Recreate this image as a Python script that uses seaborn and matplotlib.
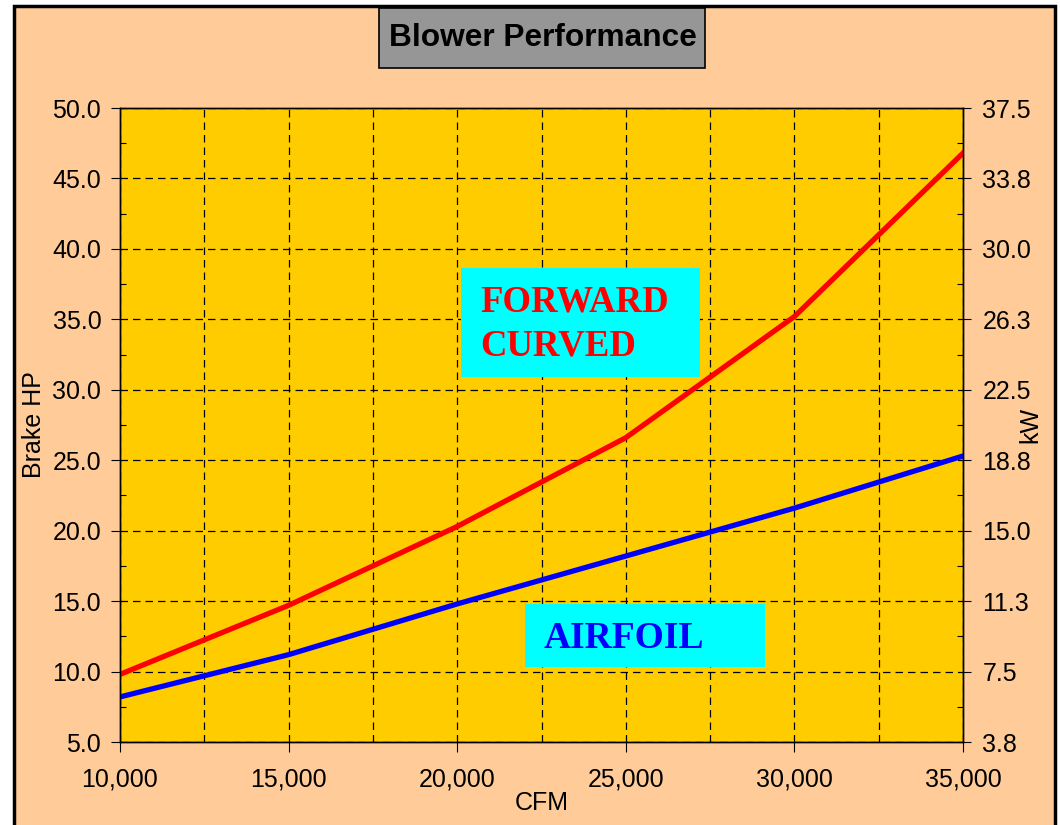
import matplotlib
matplotlib.use("Agg")
import matplotlib.pyplot as plt
from matplotlib.patches import Rectangle
from matplotlib.ticker import MultipleLocator, FuncFormatter
import seaborn as sns

# Data
cfm = [10000, 15000, 20000, 25000, 30000, 35000]
forward_curved_hp = [9.8, 14.7, 20.3, 26.6, 35.2, 46.8]
airfoil_hp = [8.2, 11.2, 14.8, 18.2, 21.6, 25.3]
hp_ticks = [5.0, 10.0, 15.0, 20.0, 25.0, 30.0, 35.0, 40.0, 45.0, 50.0]
kw_ticks = [3.75, 7.5, 11.25, 15.0, 18.75, 22.5, 26.25, 30.0, 33.75, 37.5]
kw_labels = ["3.8", "7.5", "11.3", "15.0", "18.8", "22.5", "26.3", "30.0", "33.8", "37.5"]
cfm_ticks = [10000, 15000, 20000, 25000, 30000, 35000]

plt.rcParams['font.family'] = ['Liberation Sans', 'DejaVu Sans']

W, H = 1060, 825


def fx(x):
    return x / W


def fy(y):
    return 1 - y / H


fig = plt.figure(figsize=(W / 100, H / 100), dpi=100)
fig.patch.set_facecolor('white')

# peach background with black frame (drawn below the axes)
fig.patches.append(Rectangle((fx(14), fy(900)), fx(1055) - fx(14), fy(6) - fy(900),
                             transform=fig.transFigure, facecolor='#FFCC99',
                             edgecolor='black', lw=2.5, zorder=-10))

ax = fig.add_axes([fx(120), fy(742), fx(963) - fx(120), fy(108) - fy(742)])
ax.set_facecolor('#FFCC00')
ax.set_axisbelow(True)

sns.lineplot(x=cfm, y=forward_curved_hp, color='#FF0000', lw=3.8, ax=ax, zorder=3)
sns.lineplot(x=cfm, y=airfoil_hp, color='#0000FF', lw=3.8, ax=ax, zorder=3)

ax.set_xlim(10000, 35000)
ax.set_ylim(5, 50)
ax.set_xticks(cfm_ticks)
ax.xaxis.set_minor_locator(MultipleLocator(2500))
ax.xaxis.set_major_formatter(FuncFormatter(lambda v, p: f"{int(v):,}"))
ax.set_yticks(hp_ticks)
ax.yaxis.set_minor_locator(MultipleLocator(2.5))
ax.yaxis.set_major_formatter(FuncFormatter(lambda v, p: f"{v:.1f}"))

ax.grid(True, which='major', axis='y', color='black', lw=0.9, ls=(0, (6, 4)))
ax.grid(True, which='both', axis='x', color='black', lw=0.9, ls=(0, (6, 4)))

ax.tick_params(axis='y', which='major', direction='out', length=6.5, width=0.8,
               labelsize=18, pad=7, colors='black')
ax.tick_params(axis='y', which='minor', direction='in', length=4, width=0.8)
ax.tick_params(axis='x', which='major', direction='out', length=7, width=0.8,
               labelsize=18, pad=11)
ax.tick_params(axis='x', which='minor', length=0)

for s in ax.spines.values():
    s.set_color('black')
    s.set_linewidth(1.0)

ax.set_xlabel('CFM', fontsize=18)
ax.set_ylabel('Brake HP', fontsize=18)
ax.xaxis.set_label_coords(0.5, -0.078)
ax.yaxis.set_label_coords(-0.088, 0.5)

ax2 = ax.twinx()
ax2.set_ylim(3.75, 37.5)
ax2.set_yticks(kw_ticks)
ax2.set_yticklabels(kw_labels)
ax2.yaxis.set_minor_locator(MultipleLocator(1.875))
ax2.tick_params(axis='y', which='major', direction='out', length=6, width=0.8,
                labelsize=18, pad=8)
ax2.tick_params(axis='y', which='minor', direction='in', length=4, width=0.8)
ax2.set_ylabel('kW', fontsize=18)
ax2.yaxis.set_label_coords(1.066, 0.5)
for s in ax2.spines.values():
    s.set_linewidth(1.0)

# cyan label boxes
ax.add_patch(Rectangle((fx(461), fy(377)), fx(700) - fx(461), fy(268) - fy(377),
                       transform=fig.transFigure, facecolor='#00FFFF',
                       edgecolor='none', zorder=2))
ax.add_patch(Rectangle((fx(525), fy(667)), fx(765) - fx(525), fy(604) - fy(667),
                       transform=fig.transFigure, facecolor='#00FFFF',
                       edgecolor='none', zorder=2))
ax.text(fx(480), fy(324), 'FORWARD\nCURVED', transform=fig.transFigure,
        ha='left', va='center', fontsize=26.5, fontweight='bold', color='#FF0000',
        family='Liberation Serif', linespacing=1.32, zorder=4)
ax.text(fx(544), fy(638), 'AIRFOIL', transform=fig.transFigure,
        ha='left', va='center', fontsize=27, fontweight='bold', color='#0000FF',
        family='Liberation Serif', zorder=4)

# title box
fig.patches.append(Rectangle((fx(379), fy(68)), fx(705) - fx(379), fy(8) - fy(68),
                             transform=fig.transFigure, facecolor='#969696',
                             edgecolor='black', lw=1.2, zorder=1))
fig.text(fx(543), fy(38), 'Blower Performance', ha='center', va='center',
         fontsize=22.8, fontweight='bold', color='black', zorder=2)

fig.savefig('out.png', dpi=100, facecolor=fig.get_facecolor())
